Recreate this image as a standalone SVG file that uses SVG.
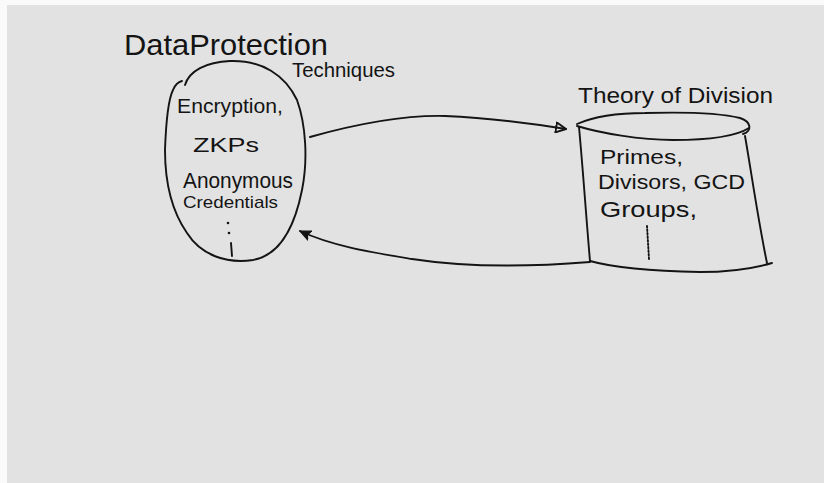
<svg xmlns="http://www.w3.org/2000/svg" width="824" height="483" viewBox="0 0 824 483">
  <style>
    .ink { fill: none; stroke: #141414; stroke-width: 1.9; stroke-linecap: round; stroke-linejoin: round; }
    .txt { font-family: "Liberation Sans", "Noto Sans", sans-serif; fill: #141414; }
  </style>
  <defs>
    <marker id="arrOpen" viewBox="0 0 12 12" refX="11" refY="6" markerWidth="12" markerHeight="12" markerUnits="userSpaceOnUse" orient="auto">
      <path d="M1,1 L11,6 L1,11 Z" fill="none" stroke="#141414" stroke-width="2" stroke-linejoin="round"/>
    </marker>
    <marker id="arrFill" viewBox="0 0 12 12" refX="11" refY="6" markerWidth="12" markerHeight="12" markerUnits="userSpaceOnUse" orient="auto">
      <path d="M0,1 L11,6 L0,11 L3,6 Z" fill="#141414" stroke="#141414" stroke-width="1.2" stroke-linejoin="round"/>
    </marker>
  </defs>

  <rect x="0" y="0" width="824" height="483" fill="#fafafa"/>
  <rect x="7" y="5" width="817" height="478" fill="#e2e2e2"/>

  <g id="node-data-protection">
    <text class="txt" x="124" y="55" font-size="29" textLength="204" lengthAdjust="spacingAndGlyphs">DataProtection</text>
    <text class="txt" x="292" y="77" font-size="21" textLength="103" lengthAdjust="spacingAndGlyphs">Techniques</text>
    <path class="ink" d="M185,85 C189,71 206,62 230,61 C262,60 285,75 297,100 C306,125 308,160 302,190 C295,225 281,255 253,260 C226,264 201,255 187,233 C171,210 165,180 165,150 C166,122 168,100 173,90 C175,85 178,82 182,81"/>
    <text class="txt" x="177" y="113" font-size="21" textLength="106" lengthAdjust="spacingAndGlyphs">Encryption,</text>
    <text class="txt" x="193" y="152" font-size="20" textLength="66" lengthAdjust="spacingAndGlyphs">ZKPs</text>
    <text class="txt" x="183" y="188" font-size="22" textLength="110" lengthAdjust="spacingAndGlyphs">Anonymous</text>
    <text class="txt" x="183" y="208" font-size="17" textLength="95" lengthAdjust="spacingAndGlyphs">Credentials</text>
    <circle cx="228" cy="223" r="1.3" fill="#141414"/>
    <circle cx="229" cy="233" r="1.3" fill="#141414"/>
    <path class="ink" d="M231,243 L232,256"/>
  </g>

  <g id="node-theory-of-division">
    <text class="txt" x="578" y="103" font-size="22" textLength="195" lengthAdjust="spacingAndGlyphs">Theory of Division</text>
    <path class="ink" d="M577,124 C595,116 620,113 645,113 C680,112 720,113 740,118 C752,122 752,131 743,134"/>
    <path class="ink" d="M577,126 C600,133 640,140 673,140 C705,140 735,137 749,128"/>
    <path class="ink" d="M579,127 C583,170 586,215 590,261"/>
    <path class="ink" d="M745,136 C751,170 758,220 767,263"/>
    <path class="ink" d="M590,261 C615,268 650,271 700,272 C735,272 755,268 772,263"/>
    <text class="txt" x="600" y="164" font-size="21" textLength="83" lengthAdjust="spacingAndGlyphs">Primes,</text>
    <text class="txt" x="598" y="189" font-size="21" textLength="147" lengthAdjust="spacingAndGlyphs">Divisors, GCD</text>
    <text class="txt" x="600" y="217" font-size="22" textLength="97" lengthAdjust="spacingAndGlyphs">Groups,</text>
    <path class="ink" d="M647,226 L649,259" stroke-width="1.6" stroke-dasharray="1.5 2"/>
  </g>

  <g id="connectors">
    <path class="ink" d="M310,137 C360,123 405,115 445,116 C495,118 535,124 566,129" marker-end="url(#arrOpen)"/>
    <path class="ink" d="M590,262 C540,266 470,268 412,259 C370,252 332,246 300,231" marker-end="url(#arrFill)"/>
  </g>
</svg>
